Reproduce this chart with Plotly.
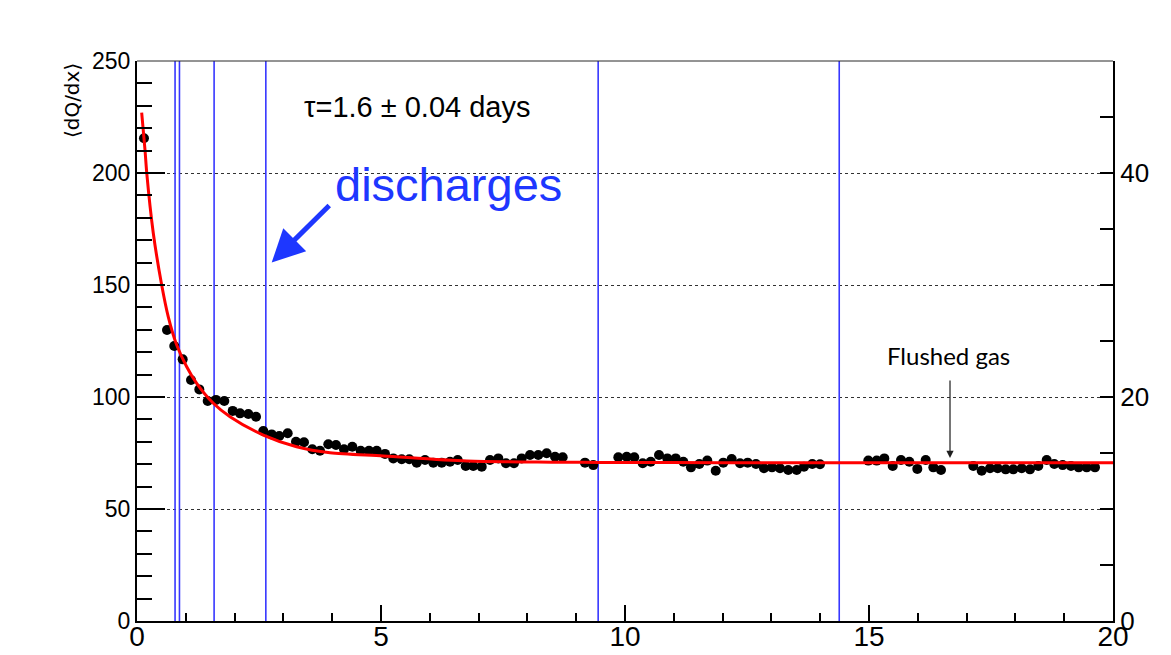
import plotly.graph_objects as go

# Measured <dQ/dx> versus time (days)
days = [0.143, 0.615, 0.764, 0.936, 1.107, 1.277, 1.449, 1.619, 1.789, 1.961,
        2.111, 2.281, 2.439, 2.588, 2.760, 2.916, 3.088, 3.258, 3.422, 3.592,
        3.750, 3.920, 4.078, 4.242, 4.412, 4.584, 4.754, 4.912, 5.082, 5.252,
        5.424, 5.580, 5.732, 5.902, 6.072, 6.244, 6.414, 6.572, 6.736, 6.891,
        7.064, 7.234, 7.404, 7.561, 7.725, 7.883, 8.053, 8.223, 8.395, 8.566,
        8.723, 9.180, 9.350, 9.863, 10.035, 10.190, 10.363, 10.527, 10.697, 10.867,
        11.039, 11.195, 11.352, 11.523, 11.686, 11.859, 12.014, 12.186, 12.357, 12.514,
        12.684, 12.848, 13.012, 13.176, 13.346, 13.518, 13.668, 13.838, 13.996, 14.986,
        15.158, 15.314, 15.486, 15.656, 15.826, 15.990, 16.162, 16.318, 16.475, 17.137,
        17.309, 17.480, 17.637, 17.801, 17.957, 18.129, 18.299, 18.469, 18.641, 18.797,
        18.969, 19.139, 19.297, 19.461, 19.631]
dqdx = [215.5, 129.9, 122.8, 116.8, 107.6, 103.4, 98.2, 98.7, 98.2, 93.8,
        92.7, 92.4, 91.2, 84.8, 83.3, 82.6, 83.8, 80.0, 79.8, 76.7,
        76.0, 78.9, 78.6, 76.7, 77.8, 76.0, 76.0, 76.0, 74.6, 72.6,
        72.2, 72.2, 70.7, 71.9, 70.7, 70.7, 71.1, 71.9, 69.2, 69.2,
        68.9, 71.9, 72.6, 70.4, 70.4, 72.6, 74.1, 74.1, 74.9, 73.3,
        73.1, 70.7, 69.6, 73.1, 73.3, 73.1, 70.4, 71.1, 74.1, 72.6,
        72.6, 71.1, 68.6, 70.1, 71.6, 67.1, 70.7, 72.3, 70.4, 70.7,
        70.1, 68.2, 68.6, 68.2, 67.4, 67.4, 68.9, 70.1, 70.0, 71.6,
        71.6, 72.6, 69.2, 71.9, 71.1, 67.9, 71.9, 68.6, 67.4, 69.2,
        67.1, 68.2, 68.2, 67.7, 67.7, 68.2, 67.7, 69.2, 71.9, 70.1,
        69.6, 69.2, 68.6, 68.6, 68.6]

# Fitted decay curve
fit_days = [0.096, 0.164, 0.200, 0.334, 0.506, 0.641, 0.814, 1.018, 1.223, 1.564,
            1.906, 2.588, 3.270, 3.955, 5.050, 6.760, 8.500, 9.490, 12.0, 16.0, 20.0]
fit_dqdx = [226.9, 210.3, 199.9, 173.1, 150.0, 135.8, 123.2, 113.5, 106.1, 97.2,
            91.2, 83.0, 77.8, 75.1, 73.7, 71.4, 70.9, 70.8, 70.7, 70.6, 70.6]

# Times of the discharges
discharge_days = [0.78, 0.87, 1.58, 2.64, 9.45, 14.39]

# Right-hand axis ticks
right_ticks = [0, 5, 10, 15, 20, 25, 30, 35, 40, 45, 50]
right_labels = ["0", "", "", "", "20", "", "", "", "40", "", ""]

flush_day = 16.66

BLUE = "rgb(30,55,255)"
LINE_BLUE = "rgb(55,55,255)"
FONT = "Liberation Sans, Arial, Helvetica, sans-serif"

fig = go.Figure()

for d in discharge_days:
    fig.add_trace(go.Scatter(x=[d, d], y=[0, 250], mode="lines",
                             line=dict(color=LINE_BLUE, width=1.6),
                             hoverinfo="skip", showlegend=False))

fig.add_trace(go.Scatter(x=days, y=dqdx, mode="markers",
                         marker=dict(color="black", size=10),
                         showlegend=False))

fig.add_trace(go.Scatter(x=fit_days, y=fit_dqdx, mode="lines",
                         line=dict(color="red", width=3, shape="spline", smoothing=0.8),
                         showlegend=False))

# empty trace so the secondary axis is drawn
fig.add_trace(go.Scatter(x=[None], y=[None], yaxis="y2", showlegend=False))

fig.update_layout(
    width=1171, height=655,
    margin=dict(l=137, r=58, t=61, b=34, autoexpand=False),
    plot_bgcolor="white", paper_bgcolor="white",
    xaxis=dict(range=[0, 20], dtick=5, tick0=0, ticks="inside", ticklen=16,
               tickwidth=2, tickcolor="black", showline=True, linecolor="black",
               linewidth=2, showgrid=False, zeroline=False, automargin=False,
               ticklabelstandoff=-11,
               tickfont=dict(family=FONT, size=28, color="black"),
               minor=dict(dtick=1, ticks="inside", ticklen=8, tickwidth=2,
                          tickcolor="black", showgrid=False)),
    yaxis=dict(range=[0, 250], dtick=50, tick0=0, ticks="inside", ticklen=28,
               tickwidth=2, tickcolor="black", showline=True, linecolor="black",
               linewidth=2, showgrid=True, gridcolor="rgb(50,50,50)", gridwidth=1,
               griddash="dot", zeroline=False, automargin=False,
               tickfont=dict(family=FONT, size=23, color="black"),
               minor=dict(dtick=10, ticks="inside", ticklen=15, tickwidth=2,
                          tickcolor="black", showgrid=False)),
    yaxis2=dict(range=[0, 50], overlaying="y", side="right",
                tickmode="array", tickvals=right_ticks, ticktext=right_labels,
                ticks="inside", ticklen=13, tickwidth=2, tickcolor="black",
                showline=True, linecolor="black", linewidth=2, automargin=False,
                showgrid=False, zeroline=False,
                tickfont=dict(family=FONT, size=26, color="black")),
    shapes=[dict(type="line", xref="paper", yref="paper", x0=0, x1=1, y0=1, y1=1,
                 line=dict(color="rgb(40,40,40)", width=1))],
)

fig.add_annotation(text="⟨dQ/dx⟩", xref="paper", yref="paper", x=-0.067, y=1.0,
                   xanchor="center", yanchor="top", textangle=-90, showarrow=False,
                   font=dict(family="DejaVu Sans, " + FONT, size=20, color="black"))

fig.add_annotation(text="τ=1.6 ± 0.04 days", x=3.38, y=229.5, xanchor="left",
                   yanchor="middle", showarrow=False,
                   font=dict(family=FONT, size=29, color="black"))

fig.add_annotation(text="discharges", x=6.39, y=195, xanchor="center",
                   yanchor="middle", showarrow=False,
                   font=dict(family=FONT, size=47, color=BLUE))

fig.add_annotation(text="", x=2.76, y=160, ax=3.97, ay=186.2, axref="x", ayref="y",
                   showarrow=True, arrowhead=2, arrowsize=1.3, arrowwidth=5,
                   arrowcolor=BLUE, standoff=0)

fig.add_annotation(text="", x=flush_day, y=72.8, ax=flush_day, ay=108,
                   axref="x", ayref="y", showarrow=True, arrowhead=2,
                   arrowsize=1.2, arrowwidth=1.2, arrowcolor="rgb(30,30,30)")

fig.add_annotation(text="Flushed gas", x=16.62, y=118.7, xanchor="center",
                   yanchor="middle", showarrow=False,
                   font=dict(family="Lato, sans-serif", size=24, color="black"))

fig.write_html("out.html")
